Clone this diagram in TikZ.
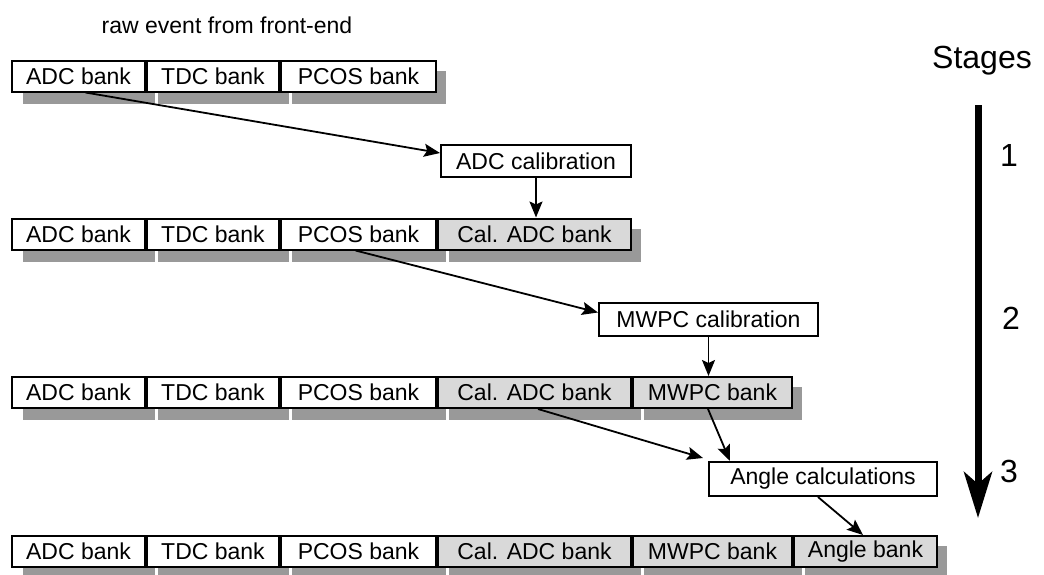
\documentclass[tikz,border=0pt]{standalone}
\usepackage{fontspec}
\setmainfont{Liberation Sans}
\usetikzlibrary{arrows.meta,backgrounds}

\definecolor{bankgray}{HTML}{D9D9D9}
\definecolor{shadowgray}{HTML}{999999}

\begin{document}
\begin{tikzpicture}[x=1pt,y=-1pt,
  bank/.style={draw=black, line width=2pt, minimum height=31pt,
    inner sep=0pt, anchor=west, font=\fontsize{23}{26}\selectfont},
  rawbank/.style={bank, fill=white},
  calbank/.style={bank, fill=bankgray},
  proc/.style={draw=black, line width=2pt, fill=white, inner sep=0pt,
    font=\fontsize{23}{26}\selectfont},
  flow/.style={line width=1.8pt, -{Stealth[length=16pt,width=13pt,inset=3pt]}},
  bigflow/.style={line width=7pt, -{Stealth[length=46pt,width=28pt,inset=12pt]}},
  stagefont/.style={font=\fontsize{32}{36}\selectfont},
  shade/.style={fill=shadowgray},
]
\useasboundingbox (0,0) rectangle (1044,574);

% title
\node[font=\fontsize{23}{26}\selectfont] (title) at (227,25) {raw event from front-end};

% row 1: raw event
\node[rawbank, minimum width=133pt] (a1) at (11,76) {ADC bank};
\node[rawbank, minimum width=132pt] (t1) at (a1.east) {TDC bank};
\node[rawbank, minimum width=155pt] (p1) at (t1.east) {PCOS bank};

% row 2: after ADC calibration
\node[rawbank, minimum width=133pt] (a2) at (11,234) {ADC bank};
\node[rawbank, minimum width=132pt] (t2) at (a2.east) {TDC bank};
\node[rawbank, minimum width=155pt] (p2) at (t2.east) {PCOS bank};
\node[calbank, minimum width=193pt] (c2) at (p2.east) {Cal. ADC bank};

% row 3: after MWPC calibration
\node[rawbank, minimum width=133pt] (a3) at (11,392.5) {ADC bank};
\node[rawbank, minimum width=132pt] (t3) at (a3.east) {TDC bank};
\node[rawbank, minimum width=155pt] (p3) at (t3.east) {PCOS bank};
\node[calbank, minimum width=193pt] (c3) at (p3.east) {Cal. ADC bank};
\node[calbank, minimum width=159pt] (m3) at (c3.east) {MWPC bank};

% row 4: after angle calculations
\node[rawbank, minimum width=133pt] (a4) at (11,551.5) {ADC bank};
\node[rawbank, minimum width=132pt] (t4) at (a4.east) {TDC bank};
\node[rawbank, minimum width=155pt] (p4) at (t4.east) {PCOS bank};
\node[calbank, minimum width=193pt] (c4) at (p4.east) {Cal. ADC bank};
\node[calbank, minimum width=159pt] (m4) at (c4.east) {MWPC bank};
\node[calbank, minimum width=143pt] (g4) at (m4.east) {Angle bank};

% processing steps
\node[proc, minimum width=190pt, minimum height=32pt] (adccal) at (536,161) {ADC calibration};
\node[proc, minimum width=219pt, minimum height=33pt] (mwpccal) at (708.5,319.5) {MWPC calibration};
\node[proc, minimum width=228pt, minimum height=34pt] (anglecalc) at (823,479) {Angle calculations};

% drop shadows behind the banks
\begin{pgfonlayer}{background}
  \foreach \n in {a1,t1,p1,a2,t2,p2,c2,a3,t3,p3,c3,m3,a4,t4,p4,c4,m4,g4}
    \fill[shade] ([shift={(12,11)}]\n.south west) rectangle ([shift={(9,11)}]\n.north east);
\end{pgfonlayer}

% data flow
\draw[flow] ([xshift=7pt]a1.south) -- ([yshift=8pt]adccal.west);
\draw[flow] (adccal.south) -- (adccal.south |- c2.north);
\draw[flow] ([xshift=-3pt]p2.south) -- ([yshift=7pt]mwpccal.west);
\draw[flow] (mwpccal.south) -- (mwpccal.south |- m3.north);
\coordinate (angleinA) at ([shift={(-5,-3)}]anglecalc.north west);
\coordinate (angleinB) at ([shift={(22,0)}]anglecalc.north west);
\draw[flow] ([xshift=3.5pt]c3.south) -- (angleinA);
\draw[flow] ([xshift=-4.5pt]m3.south) -- (angleinB);
\draw[flow] ([xshift=-5pt]anglecalc.south) -- ([xshift=-2.5pt]g4.north);

% stage axis
\node[stagefont] (stages) at (982,61) {Stages};
\coordinate (axtop) at (978,105);
\coordinate (axbot) at (978,518);
\draw[bigflow] (axtop) -- (axbot);
\node[stagefont] (s1) at (1009,155) {1};
\node[stagefont] (s2) at (1011,318) {2};
\node[stagefont] (s3) at (1009,471) {3};
\end{tikzpicture}
\end{document}
